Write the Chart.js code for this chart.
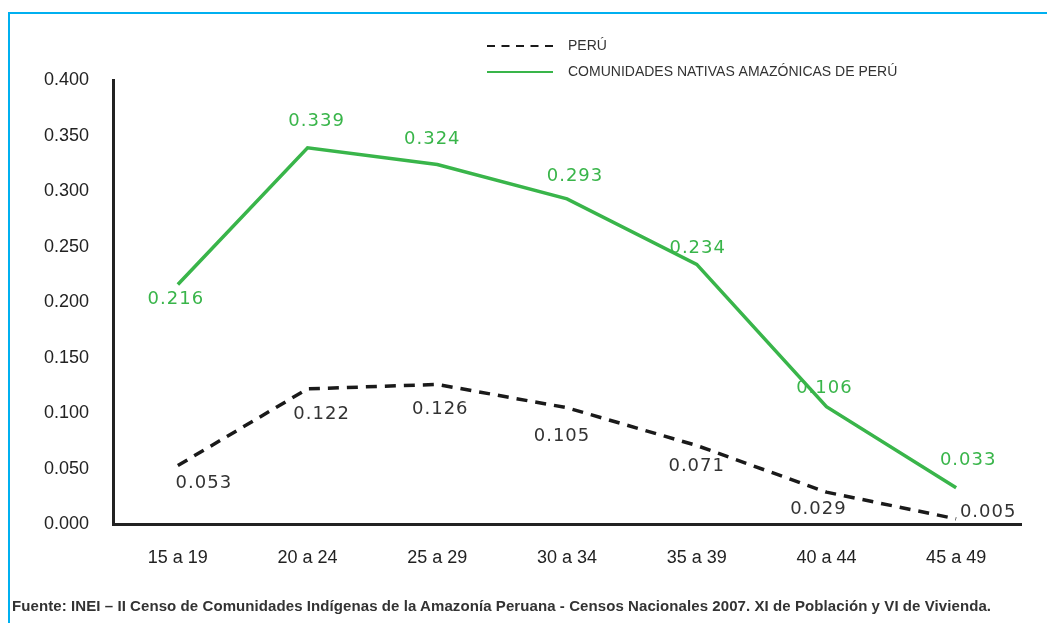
<!DOCTYPE html>
<html>
<head>
<meta charset="utf-8">
<script src="https://cdn.jsdelivr.net/npm/chart.js"></script>
<style>
html, body { margin: 0; padding: 0; background: #fff; }
#wrap { position: relative; width: 1047px; height: 623px; overflow: hidden; }
#frame { position: absolute; left: 8px; top: 12px; width: 1100px; height: 700px; border: 2px solid #00b0f0; }
#chart { position: absolute; left: 0; top: 0; }
#source { position: absolute; left: 12px; top: 597px; font: bold 15px "Liberation Sans Narrow", "Liberation Sans", sans-serif; letter-spacing: 0.08px; color: #333; white-space: nowrap; }
</style>
</head>
<body>
<div id="wrap">
  <div id="frame"></div>
  <canvas id="chart" width="1047" height="623"></canvas>
  <div id="source">Fuente: INEI – II Censo de Comunidades Indígenas de la Amazonía Peruana - Censos Nacionales 2007. XI de Población y VI de Vivienda.</div>
</div>
<script>
var categories = ["15 a 19", "20 a 24", "25 a 29", "30 a 34", "35 a 39", "40 a 44", "45 a 49"];
var peru = [0.053, 0.122, 0.126, 0.105, 0.071, 0.029, 0.005];
var nativas = [0.216, 0.339, 0.324, 0.293, 0.234, 0.106, 0.033];
var yTicks = [0, 0.05, 0.1, 0.15, 0.2, 0.25, 0.3, 0.35, 0.4];

// value labels, drawn next to each point (offsets in px from the point)
var pointLabels = {
  id: 'pointLabels',
  afterDatasetsDraw: function(chart) {
    var ctx = chart.ctx;
    chart.data.datasets.forEach(function(ds, i) {
      var meta = chart.getDatasetMeta(i);
      ctx.save();
      ctx.font = '18px "DejaVu Sans"';
      ctx.letterSpacing = '1px';
      ctx.fillStyle = ds.labelColor;
      ctx.textAlign = 'center';
      ctx.textBaseline = 'middle';
      meta.data.forEach(function(pt, j) {
        var off = ds.labelOffsets[j];
        ctx.fillText(ds.data[j].toFixed(3), pt.x + off[0], pt.y + off[1]);
      });
      ctx.restore();
    });
  }
};

var topLegend = {
  id: 'topLegend',
  afterDraw: function(chart) {
    var ctx = chart.ctx;
    chart.data.datasets.forEach(function(ds, i) {
      var y = 46 + i * 26;
      ctx.save();
      ctx.strokeStyle = ds.borderColor;
      ctx.lineWidth = 2;
      ctx.setLineDash(ds.legendDash);
      ctx.beginPath();
      ctx.moveTo(487, y);
      ctx.lineTo(553, y);
      ctx.stroke();
      ctx.fillStyle = '#333';
      ctx.font = '14px "Liberation Sans"';
      ctx.textBaseline = 'middle';
      ctx.fillText(ds.label, 568, y);
      ctx.restore();
    });
  }
};

var ctx = document.getElementById("chart").getContext('2d');
var myChart = new Chart(ctx, {
  type: 'line',
  data: {
    labels: categories,
    datasets: [
      {
        label: "PERÚ",
        data: peru,
        borderColor: '#1a1a1a',
        borderWidth: 3.5,
        borderDash: [11, 8],
        legendDash: [8, 6.5],
        pointRadius: 0,
        tension: 0,
        labelColor: '#333',
        labelOffsets: [[26, 18], [14, 25], [3, 25], [-5, 29], [0, 21], [-8, 17], [32, -7]]
      },
      {
        label: "COMUNIDADES NATIVAS AMAZÓNICAS DE PERÚ",
        data: nativas,
        borderColor: '#39b54a',
        borderWidth: 3.5,
        legendDash: [],
        pointRadius: 0,
        tension: 0,
        labelColor: '#39b54a',
        labelOffsets: [[-2, 15], [9, -26], [-5, -25], [8, -23], [1, -16], [-2, -18], [12, -27]]
      }
    ]
  },
  options: {
    responsive: false,
    animation: false,
    layout: { padding: { top: 80, right: 26, bottom: 39, left: 0 } },
    plugins: {
      legend: { display: false },
      tooltip: { enabled: false }
    },
    scales: {
      x: {
        offset: true,
        grid: { display: false },
        border: { display: true, color: '#222', width: 3 },
        ticks: { color: '#222', font: { family: 'Liberation Sans', size: 18 }, padding: 15, maxRotation: 0 }
      },
      y: {
        min: 0,
        max: 0.4,
        grid: { display: false },
        border: { display: true, color: '#222', width: 3 },
        afterBuildTicks: function(scale) {
          scale.ticks = yTicks.map(function(v) { return { value: v }; });
        },
        afterFit: function(scale) { scale.width = 113; },
        ticks: {
          color: '#222',
          font: { family: 'Liberation Sans', size: 18 },
          padding: 16,
          callback: function(v) { return v.toFixed(3); }
        }
      }
    }
  },
  plugins: [pointLabels, topLegend]
});
</script>
</body>
</html>
